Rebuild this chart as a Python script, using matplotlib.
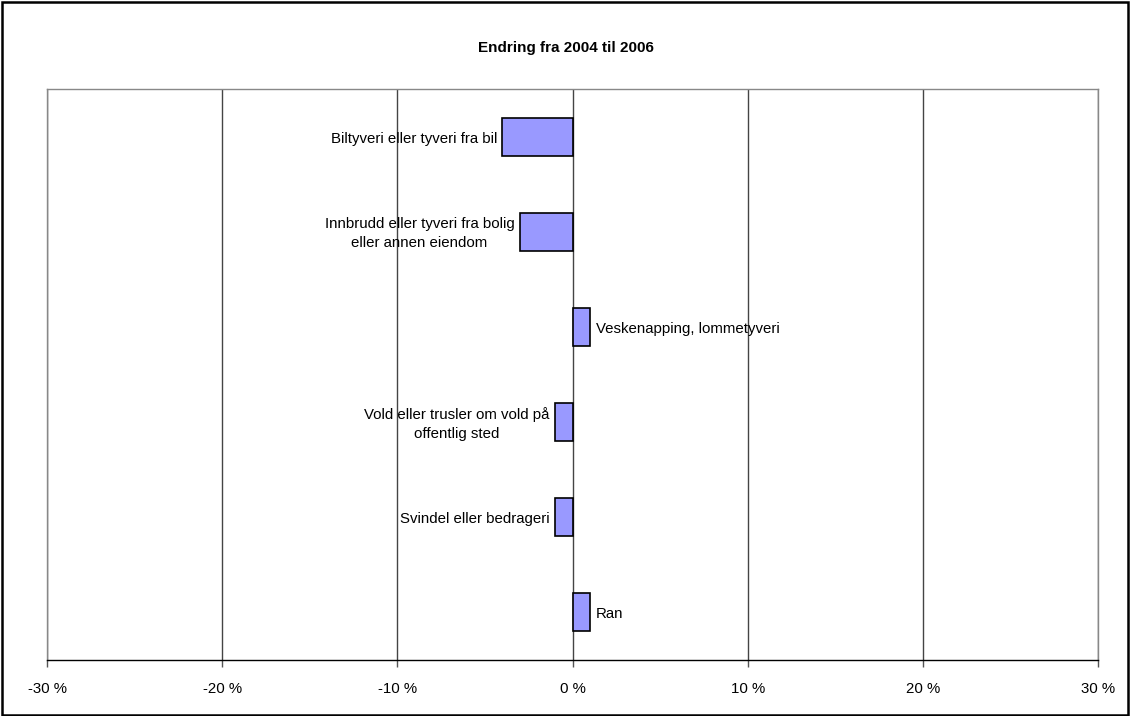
import numpy as np
import matplotlib.pyplot as plt
from matplotlib.patches import Rectangle

plt.rcParams['font.family'] = ['Liberation Sans', 'DejaVu Sans']

categories = [
    "Biltyveri eller tyveri fra bil",
    "Innbrudd eller tyveri fra bolig\neller annen eiendom",
    "Veskenapping, lommetyveri",
    "Vold eller trusler om vold på\noffentlig sted",
    "Svindel eller bedrageri",
    "Ran",
]
changes = [-4, -3, 1, -1, -1, 1]
xticks = [-30, -20, -10, 0, 10, 20, 30]

W, H = 1130, 716
fig = plt.figure(figsize=(W / 100, H / 100), dpi=100)
ax = fig.add_axes([47 / W, 1 - 660 / H, (1098 - 47) / W, (660 - 89) / H])

y = np.arange(len(categories))
ax.barh(y, changes, height=0.4, color='#9999ff', edgecolor='black', linewidth=1.2, zorder=3)

# labels next to the bars, on the side away from zero
for yi, v, lab in zip(y, changes, categories):
    if v < 0:
        ax.annotate(lab, (v, yi), xytext=(-4, -1.5), textcoords='offset points',
                    ha='right', va='center', multialignment='center', fontsize=10.8,
                    linespacing=1.45, zorder=4)
    else:
        ax.annotate(lab, (v, yi), xytext=(4, -1.5), textcoords='offset points',
                    ha='left', va='center', multialignment='center', fontsize=10.8,
                    linespacing=1.45, zorder=4)

ax.set_xlim(-30, 30)
ax.set_ylim(len(categories) - 0.5, -0.5)
ax.set_xticks(xticks)
ax.set_xticklabels([f"{t} %" for t in xticks], fontsize=10.8)
ax.set_yticks([])
ax.tick_params(axis='x', direction='out', length=5, width=1, color='#555555', pad=11)
ax.grid(axis='x', color='#444444', linewidth=1, zorder=0)

for side in ['top', 'left', 'right']:
    ax.spines[side].set_color('#888888')
    ax.spines[side].set_linewidth(1)
ax.spines['bottom'].set_color('black')
ax.spines['bottom'].set_linewidth(1)

fig.text(566 / W, 1 - 48 / H, "Endring fra 2004 til 2006", ha='center', va='center',
         fontsize=11, fontweight='bold')

# outer border
fig.patches.append(Rectangle((0.002, 0.002), 0.996, 0.995, transform=fig.transFigure,
                             fill=False, edgecolor='black', linewidth=1.8))

fig.savefig('out.png', dpi=100)
